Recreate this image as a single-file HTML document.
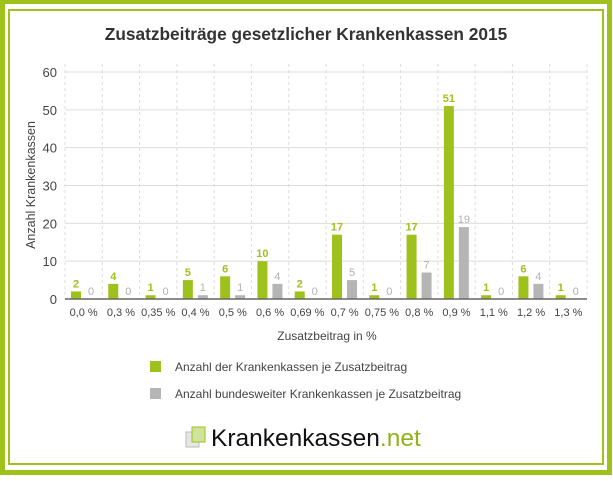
<!DOCTYPE html>
<html><head><meta charset="utf-8"><style>
html,body{margin:0;padding:0;background:#fff}
body{width:613px;height:476px;position:relative;overflow:hidden;font-family:"Liberation Sans",sans-serif}
</style></head><body>
<svg width="613" height="476" viewBox="0 0 613 476" xmlns="http://www.w3.org/2000/svg">
<g>
<rect x="2.5" y="1.5" width="607" height="471" fill="none" stroke="#9fc11c" stroke-width="5"/>
<rect x="9" y="10" width="594" height="454" fill="none" stroke="#9fc11c" stroke-width="2"/>
</g>
<text x="306" y="40" text-anchor="middle" font-size="17.3" font-weight="bold" fill="#333">Zusatzbeiträge gesetzlicher Krankenkassen 2015</text>
<g id="grid"></g>
<g id="bars"></g>
<g id="axes"></g>
<text transform="translate(35,185) rotate(-90)" text-anchor="middle" font-size="12.5" fill="#444">Anzahl Krankenkassen</text>
<text x="327" y="340" text-anchor="middle" font-size="12" fill="#444">Zusatzbeitrag in %</text>
<g>
<rect x="150" y="361" width="11" height="11" fill="#9fc11c"/>
<text x="175" y="371" font-size="12" fill="#444">Anzahl der Krankenkassen je Zusatzbeitrag</text>
<rect x="150" y="388" width="11" height="11" fill="#b5b5b5"/>
<text x="175" y="398" font-size="12" fill="#444">Anzahl bundesweiter Krankenkassen je Zusatzbeitrag</text>
</g>
<g>
<rect x="186" y="432" width="13" height="15" fill="#e6e6e6" stroke="#bbb" stroke-width="1"/>
<rect x="192" y="427" width="13" height="15" fill="#cfe39a" stroke="#9fc11c" stroke-width="1"/>
<text x="211" y="446" font-size="24.5" fill="#111">Krankenkassen<tspan fill="#8fb31a">.net</tspan></text>
</g>
</svg>
<script>
const categories=["0,0 %","0,3 %","0,35 %","0,4 %","0,5 %","0,6 %","0,69 %","0,7 %","0,75 %","0,8 %","0,9 %","1,1 %","1,2 %","1,3 %"];
const seriesAll=[2,4,1,5,6,10,2,17,1,17,51,1,6,1];
const seriesNational=[0,0,0,1,1,4,0,5,0,7,19,0,4,0];
const yTicks=[0,10,20,30,40,50,60];
const NS="http://www.w3.org/2000/svg";
const L=65,R=587,T=72,B=299,yMax=60;
const bw=(R-L)/categories.length;
const y=v=>B-(v/yMax)*(B-T);
const xg=i=>L+i*bw;
function mk(tag,attrs,parent){const e=document.createElementNS(NS,tag);for(const k in attrs)e.setAttribute(k,attrs[k]);parent.appendChild(e);return e;}
const grid=document.getElementById('grid'),bars=document.getElementById('bars'),axes=document.getElementById('axes');
yTicks.forEach(t=>{
 const l=mk('line',{x1:L,x2:R,y1:y(t),y2:y(t),stroke:'#ddd','stroke-width':1},grid);
 
 
 const tx=mk('text',{x:57,y:y(t)+5,'text-anchor':'end','font-size':13,fill:'#444'},axes);
 tx.textContent=t;
 
 
});
for(let i=0;i<=categories.length;i++){
 const l=mk('line',{x1:xg(i),x2:xg(i),y1:T-8,y2:B,stroke:'#ddd','stroke-width':1,'stroke-dasharray':'3,3'},grid);
 
 
}
categories.forEach((c,i)=>{
 const x0=xg(i);
 const g1=mk('rect',{x:x0+6,y:y(seriesAll[i]),width:10,height:B-y(seriesAll[i]),fill:'#9fc11c'},bars);
 
 
 const v1=mk('text',{x:x0+11,y:y(seriesAll[i])-4,'text-anchor':'middle','font-size':11,'font-weight':'bold',fill:'#9fc11c'},bars);
 v1.textContent=seriesAll[i];
 
 
 const g2=mk('rect',{x:x0+21,y:y(seriesNational[i]),width:10,height:B-y(seriesNational[i]),fill:'#b5b5b5'},bars);
 
 
 const v2=mk('text',{x:x0+26,y:y(seriesNational[i])-4,'text-anchor':'middle','font-size':11,fill:'#b0b0b0'},bars);
 v2.textContent=seriesNational[i];
 
 
 const lt=mk('text',{x:x0+bw/2,y:B+17,'text-anchor':'middle','font-size':11,fill:'#444'},axes);
 lt.textContent=c;
 
 
});
const ax=mk('line',{x1:L,x2:R,y1:B,y2:B,stroke:'#666','stroke-width':1.5},axes);


</script>
</body></html>
